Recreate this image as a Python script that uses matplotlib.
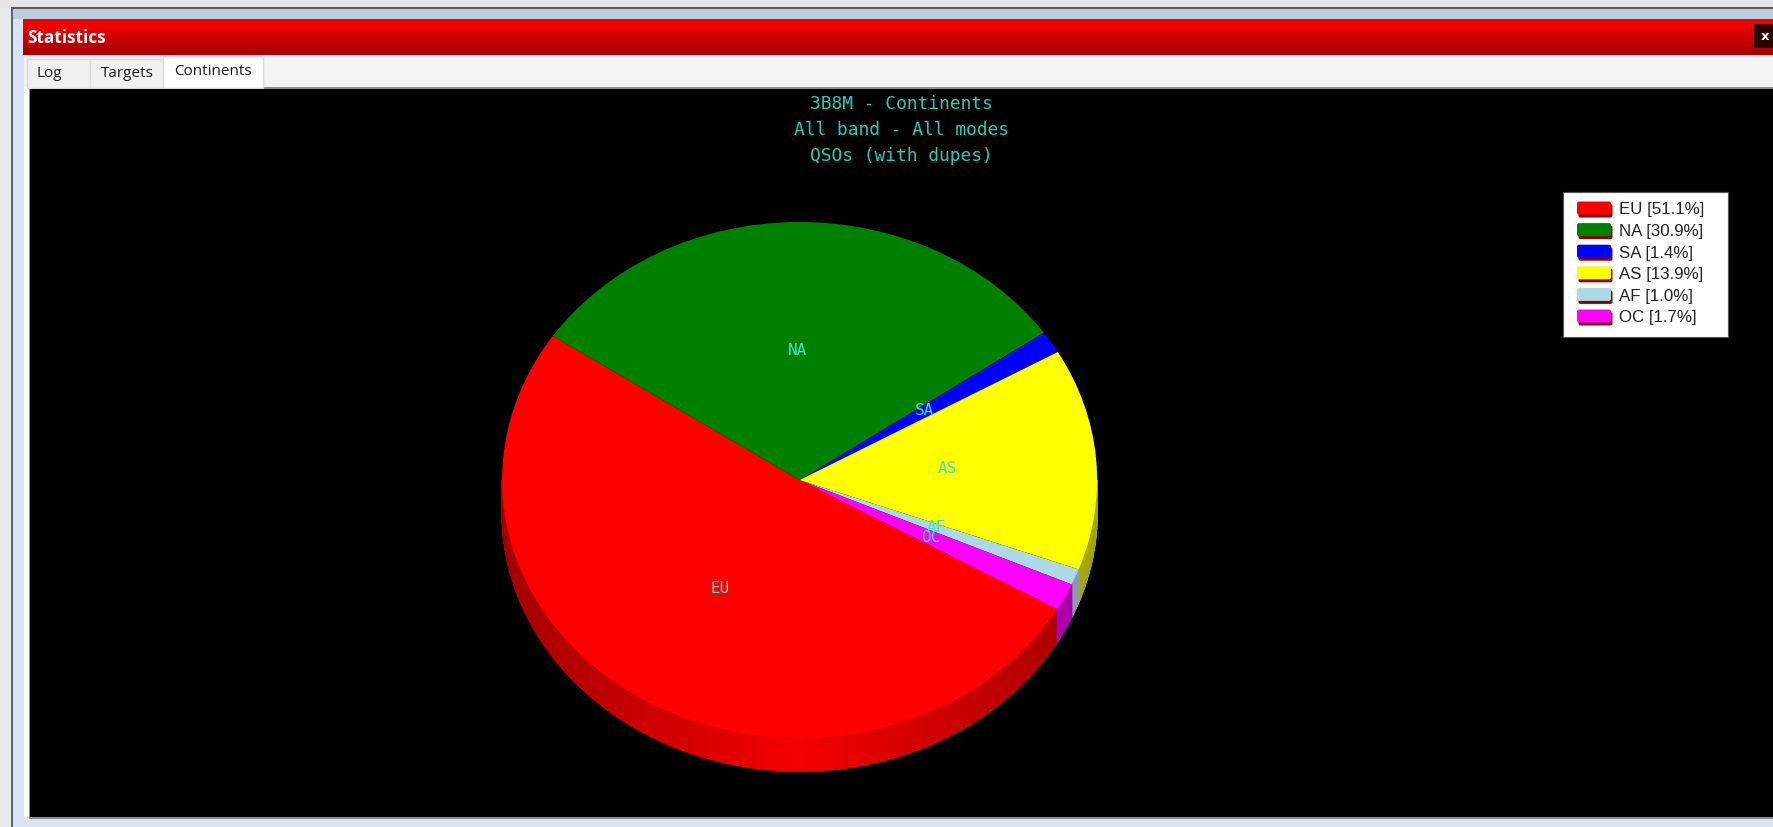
import numpy as np
import matplotlib
matplotlib.use("Agg")
import matplotlib.pyplot as plt
from matplotlib.patches import Rectangle, FancyBboxPatch
from matplotlib.colors import to_rgb

continents = ["EU", "NA", "SA", "AS", "AF", "OC"]
shares = [51.1, 30.9, 1.4, 13.9, 1.0, 1.7]
colors = ["#ff0000", "#008000", "#0000ff", "#ffff00", "#add8e6", "#ff00ff"]
titles = ["3B8M - Continents", "All band - All modes", "QSOs (with dupes)"]
tabs = ["Log", "Targets", "Continents"]
window_title = "Statistics"

W, H = 1773, 828
START_ANGLE = -30
CX, CY, RX, RY, DEPTH = 799.6, 481.0, 297.5, 258.0, 33.0
TEAL = "#40e0d0"
MONO = "DejaVu Sans Mono"
UI = "Open Sans"

fig = plt.figure(figsize=(W / 100, H / 100), dpi=100, facecolor="#e9e9e9")

# ---------- window chrome, pixel coordinates ----------
bg = fig.add_axes([0, 0, 1, 1])


def rect(x0, y0, x1, y1, fc, ec="none", lw=0, z=1):
    bg.add_patch(Rectangle((x0, y0), x1 - x0, y1 - y0, fc=fc, ec=ec, lw=lw, zorder=z))


rect(0, 0, W, 8, "#e6e6e6")
rect(11, 7, W, H + 2, "#d8e4f1")
rect(11, 7, W, 8.5, "#5a5a5a", z=2)
rect(11, 7, 12.6, H + 2, "#5f6368", z=2)
rect(13, 9, W, 19, "#bdcfe0", z=2)
rect(23, 54, W, 822, "#e3e3e3", z=2)
rect(24, 55, W, 87, "#f3f3f3", z=2)
rect(24, 87, 29, 817, "#ffffff", z=2)
rect(29, 87, W, 818.5, "#8c8c8c", z=3)

grad = np.linspace(0, 1, 64)[:, None, None] * np.array([[[-0.36, 0, 0]]]) + np.array([1, 0, 0])[None, None, :]
bg.imshow(np.clip(grad, 0, 1), extent=(23, W, 54.5, 19), aspect="auto", zorder=3, interpolation="bilinear")
bg.set_xlim(0, W)
bg.set_ylim(H - 1, -1)
bg.axis("off")
bg.text(27, 37, window_title, color="white", fontsize=12.4, fontweight="bold",
        family=UI, va="center", ha="left", zorder=5)
rect(1754, 24, W, 48, "#2b0303", z=5)
bg.text(1765.5, 35.5, "x", color="white", fontsize=9.5, fontweight="bold", family="DejaVu Sans",
        va="center", ha="center", zorder=6)

tab_boxes = [(27, 90, 59, 72.5, 49), (90, 163, 59, 72.5, 127.5), (163, 263, 56, 70.5, 212.5)]
for name, (x0, x1, y0, ty, tx) in zip(tabs, tab_boxes):
    active = name == "Continents"
    rect(x0, y0, x1, 87.5, "#ffffff" if active else "#f0f0f0", ec="#dcdcdc", lw=1, z=4)
    bg.text(tx, ty, name, color="#1a1a1a", fontsize=11.0, family=UI,
            va="center", ha="center", zorder=6)
rect(29.5, 88.5, W, 817, "#000000", z=4)

for i, line in enumerate(titles):
    bg.text(901, 103 + i * 26, line, color="#2fc8b8", fontsize=12.9, family=MONO,
            va="center", ha="center", zorder=6)

# ---------- legend ----------
rect(1563, 192, 1728, 337, "#ffffff", ec="#555555", lw=0.8, z=6)
for i, (name, val, col) in enumerate(zip(continents, shares, colors)):
    y = 201.5 + i * 21.6
    bg.add_patch(FancyBboxPatch((1578.5, y + 2.5), 34, 13.5, boxstyle="round,pad=0,rounding_size=2",
                                fc="#8b0000", ec="none", zorder=7))
    bg.add_patch(FancyBboxPatch((1577, y), 34, 13, boxstyle="round,pad=0,rounding_size=2",
                                fc=col, ec="none", zorder=8))
    bg.text(1619, y + 7.5, f"{name} [{val:.1f}%]", color="#222222", fontsize=12.2,
            family="Liberation Sans", va="center", ha="left", zorder=8)

# ---------- pie ----------
ax = fig.add_axes([(CX - RX) / W, 1 - (CY + RY) / H, 2 * RX / W, 2 * RY / H])
ax.patch.set_alpha(0)
drop = DEPTH / RY

vals = np.array(shares, dtype=float)
edges = START_ANGLE - np.concatenate([[0], np.cumsum(vals / vals.sum() * 360)])

# Side wall of the disc: only the part of the rim facing the viewer.
for col, a0, a1 in zip(colors, edges[:-1], edges[1:]):
    for shift in (0, 360):
        l, h = max(a1 + shift, -180), min(a0 + shift, 0)
        if h <= l:
            continue
        n = max(int((h - l) * 2), 1)
        steps = np.linspace(l, h, n + 1)
        for s0, s1 in zip(steps[:-1], steps[1:]):
            th = np.radians([s0, s1])
            xs = np.cos(th)
            ys = np.sin(th)
            f = 0.64 + 0.32 * (1 - abs(xs.mean()))
            c = np.clip(np.array(to_rgb(col)) * f, 0, 1)
            if col == "#add8e6":
                c = np.array(to_rgb("#8c9aa8"))
            ax.fill([xs[0], xs[1], xs[1], xs[0]],
                    [ys[0], ys[1], ys[1] - drop, ys[0] - drop],
                    color=c, lw=1.0, clip_on=False, zorder=1)

wedges, _ = ax.pie(shares, colors=colors, startangle=START_ANGLE, counterclock=False, radius=1,
                   wedgeprops=dict(linewidth=0))
for w in wedges:
    w.set_clip_on(False)
    w.set_zorder(2)
ax.set_aspect("auto")
ax.set_xlim(-1, 1)
ax.set_ylim(-1, 1)
ax.axis("off")

for name, a0, a1 in zip(continents, edges[:-1], edges[1:]):
    mid = np.radians((a0 + a1) / 2)
    ax.text(0.5 * np.cos(mid) - 1 / RX, 0.5 * np.sin(mid) + 1.5 / RY, name, color=TEAL, fontsize=11.5,
            family=MONO, ha="center", va="center", zorder=5)

fig.savefig("out.png", dpi=100, facecolor=fig.get_facecolor())
